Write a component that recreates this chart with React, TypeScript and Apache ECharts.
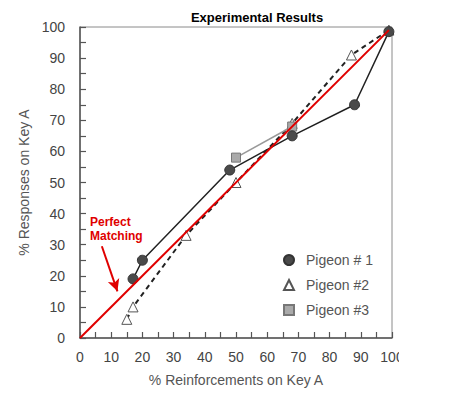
import React, { useEffect, useRef } from "react";
import * as echarts from "echarts";

const pigeon1X = [17, 20, 48, 68, 88, 99];
const pigeon1Y = [19, 25, 54, 65, 75, 98.5];
const pigeon2X = [15, 17, 34, 50, 68, 87, 99];
const pigeon2Y = [6, 10, 33, 50, 69, 91, 99];
const pigeon3X = [50, 68];
const pigeon3Y = [58, 68];
const perfectX = [0, 99];
const perfectY = [0, 99];
const arrowFrom = [7, 29.5];
const arrowTo = [12, 15];
const seriesNames = ["Pigeon # 1", "Pigeon #2", "Pigeon #3"];

const zip = (xs: number[], ys: number[]) => xs.map((x, i) => [x, ys[i]]);

export default function App() {
  const ref = useRef<HTMLDivElement>(null);
  useEffect(() => {
    document.body.style.margin = "0";
    if (!ref.current) return;
    const chart = echarts.init(ref.current, null, { renderer: "svg" });
    const font = "'Liberation Sans', Arial, sans-serif";
    const axisCommon = {
      min: 0,
      max: 100,
      interval: 10,
      axisLine: { show: true, lineStyle: { color: "#555", width: 1.5 } },
      axisTick: { show: true, inside: true, length: 6, lineStyle: { color: "#555", width: 1.2 } },
      minorTick: { show: true, splitNumber: 2, length: 6, lineStyle: { color: "#555", width: 1.2 } },
      splitLine: { show: false },
      nameLocation: "middle" as const,
      nameTextStyle: { color: "#555", fontSize: 14, fontFamily: font },
    };
    chart.setOption({
      animation: false,
      backgroundColor: "#fff",
      title: {
        text: "Experimental Results",
        left: 252,
        textAlign: "center",
        top: 6,
        textStyle: { fontSize: 13, fontWeight: "bold", color: "#000", fontFamily: font },
      },
      grid: {
        left: 80,
        right: 58,
        top: 27,
        bottom: 56,
        show: true,
        borderColor: "#8a8a8a",
        borderWidth: 1,
      },
      legend: {
        orient: "vertical",
        left: 283,
        top: 253,
        padding: 0,
        itemWidth: 10,
        itemHeight: 10,
        itemGap: 11,
        textStyle: { color: "#555", fontSize: 14, fontFamily: font, padding: [0, 0, 0, 7] },
        data: [
          { name: seriesNames[0], icon: "circle" },
          { name: seriesNames[1], icon: "triangle" },
          { name: seriesNames[2], icon: "rect" },
        ],
      },
      xAxis: {
        ...axisCommon,
        type: "value",
        name: "% Reinforcements on Key A",
        nameGap: 35,
        axisLabel: { color: "#444", fontSize: 14, margin: 12, fontFamily: font },
      },
      yAxis: {
        ...axisCommon,
        type: "value",
        name: "% Responses on Key A",
        nameGap: 48,
        axisLabel: { color: "#444", fontSize: 14, margin: 15, fontFamily: font },
      },
      series: [
        {
          name: seriesNames[1],
          type: "line",
          data: zip(pigeon2X, pigeon2Y),
          symbol: "triangle",
          symbolSize: 10,
          lineStyle: { color: "#222", width: 2, type: [5, 4] },
          itemStyle: { color: "#fff", borderColor: "#555", borderWidth: 1 },
          z: 2,
        },
        {
          name: seriesNames[2],
          type: "line",
          data: zip(pigeon3X, pigeon3Y),
          symbol: "rect",
          symbolSize: 9,
          lineStyle: { color: "#999", width: 1.5 },
          itemStyle: { color: "#aaa", borderColor: "#777", borderWidth: 1 },
          z: 3,
        },
        {
          name: seriesNames[0],
          type: "line",
          data: zip(pigeon1X, pigeon1Y),
          symbol: "circle",
          symbolSize: 10,
          lineStyle: { color: "#222", width: 1.5 },
          itemStyle: { color: "#4a4a4a", borderColor: "#333", borderWidth: 1 },
          z: 4,
        },
        {
          name: "Perfect Matching",
          type: "line",
          data: zip(perfectX, perfectY),
          symbol: "none",
          lineStyle: { color: "#e00000", width: 2 },
          z: 5,
          markLine: {
            silent: true,
            symbol: ["none", "arrow"],
            symbolSize: [9, 12],
            label: { show: false },
            lineStyle: { color: "#e00000", width: 2, type: "solid" },
            data: [[{ coord: arrowFrom }, { coord: arrowTo }]],
          },
        },
      ],
      graphic: [
        {
          type: "text",
          left: 90,
          top: 215,
          style: {
            text: "Perfect\nMatching",
            fill: "#e00000",
            font: `bold 12px ${font}`,
            lineHeight: 14,
          },
          z: 10,
        },
        {
          type: "rect",
          shape: { x: 399, y: 345, width: 51, height: 25 },
          style: { fill: "#fff" },
          z: 100,
        },
      ],
    });
    return () => chart.dispose();
  }, []);
  return <div ref={ref} style={{ width: 450, height: 394 }} />;
}
